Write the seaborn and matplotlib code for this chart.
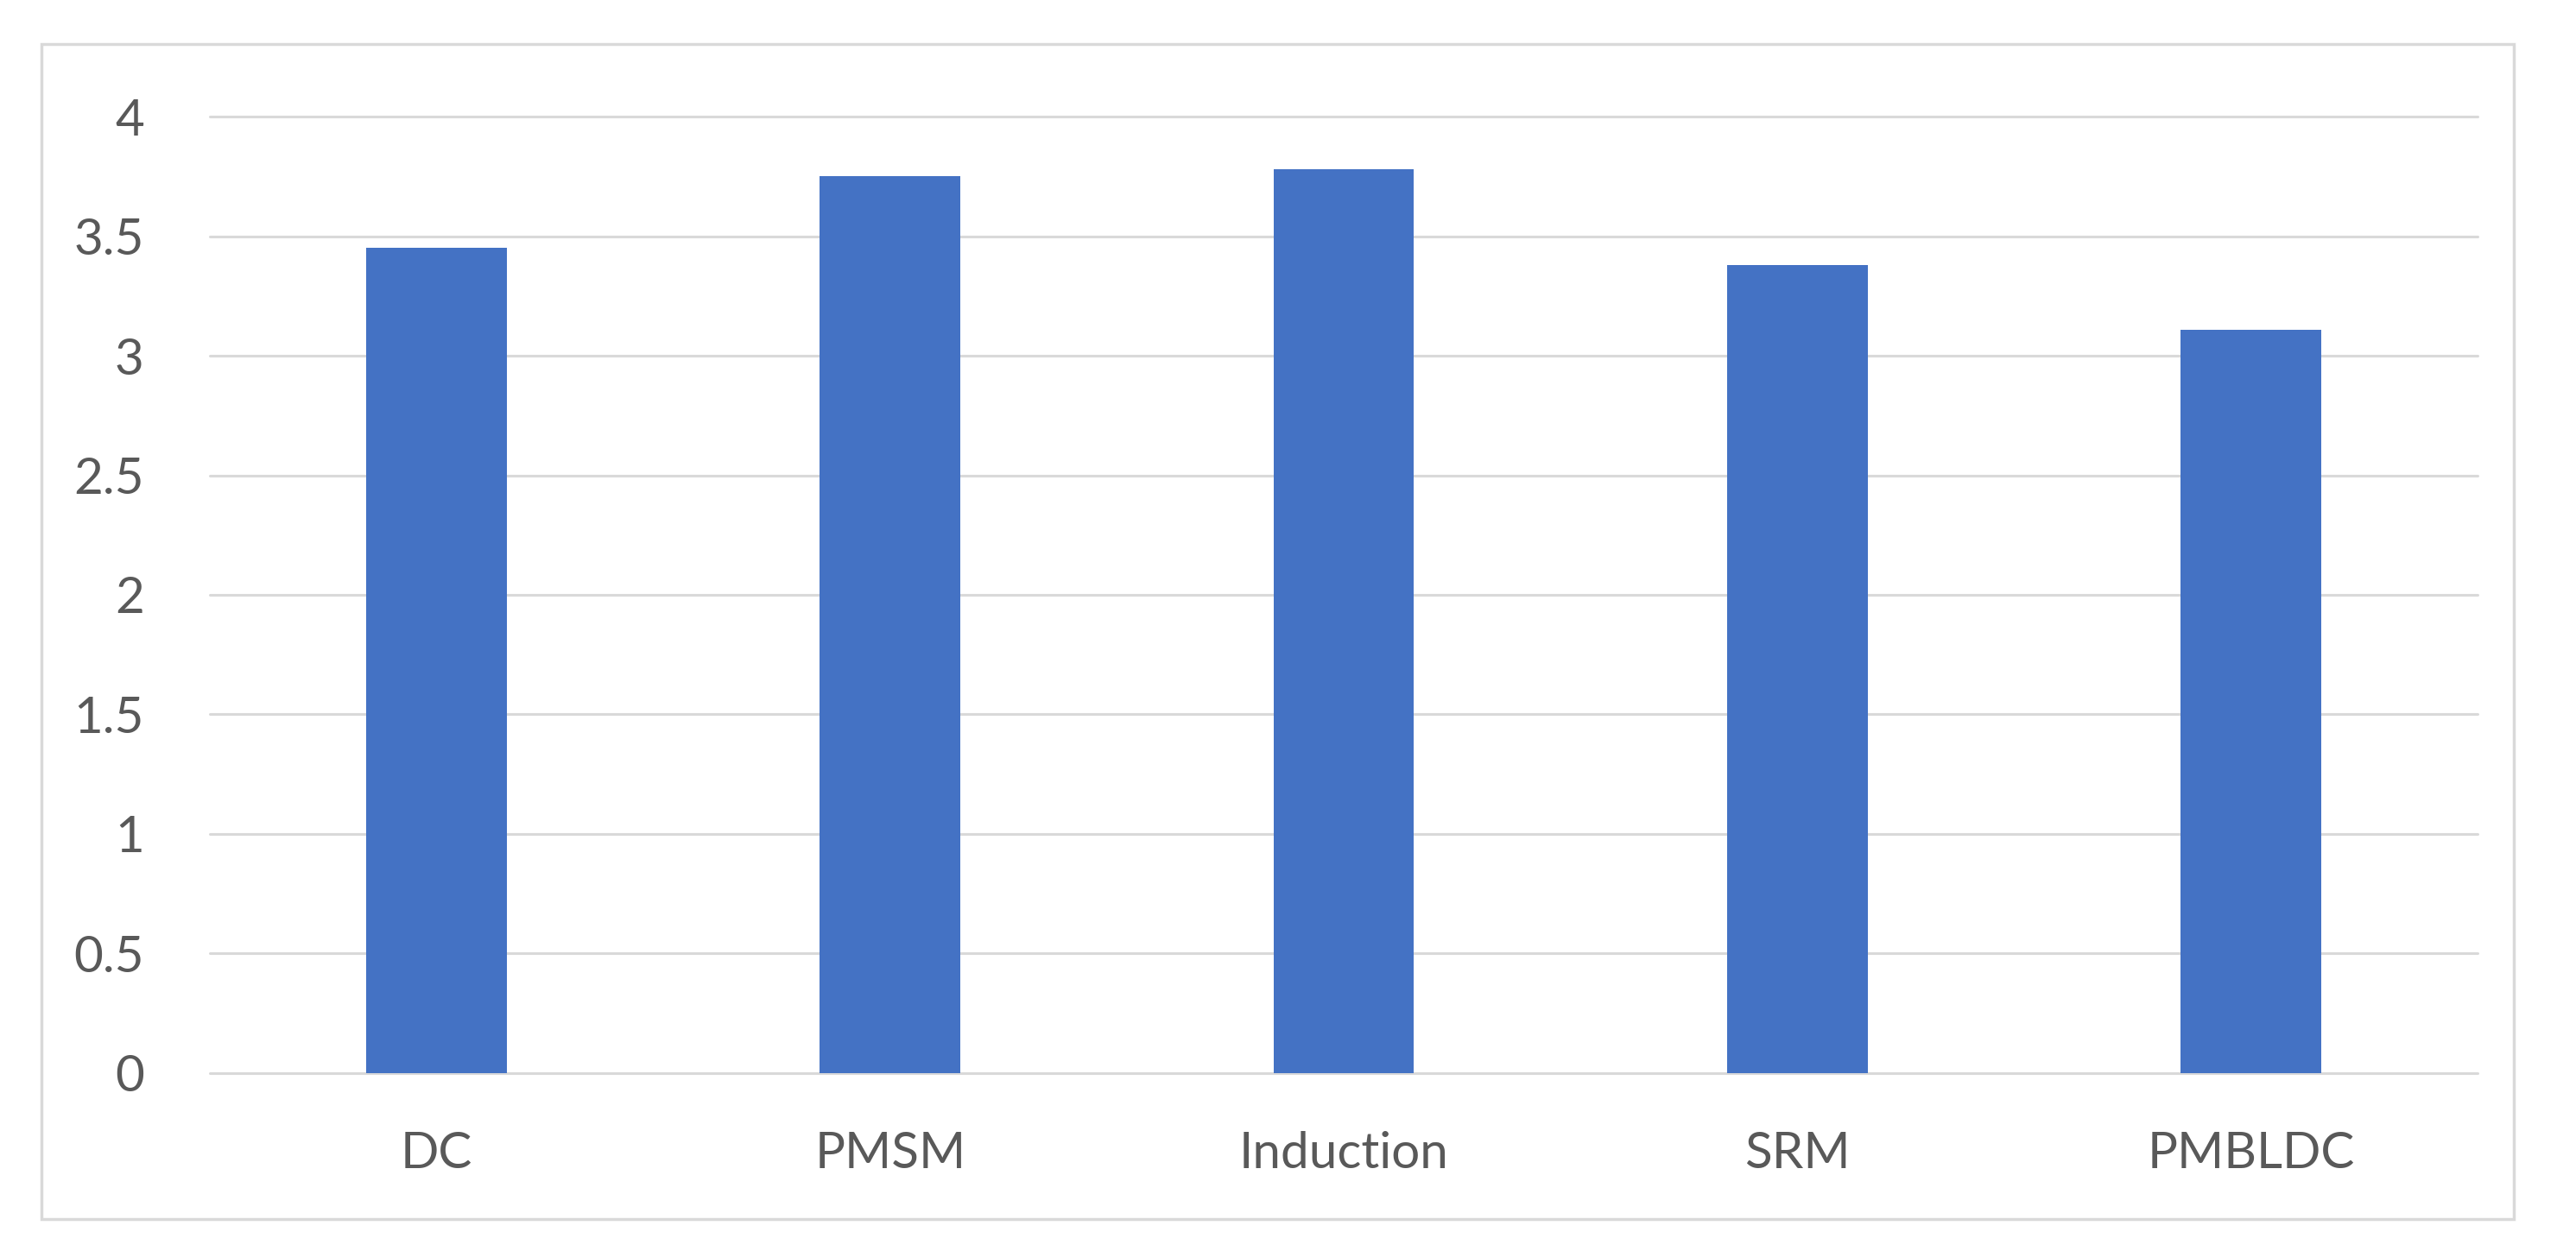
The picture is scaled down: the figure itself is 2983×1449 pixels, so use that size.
import matplotlib
matplotlib.use("Agg")
import matplotlib.pyplot as plt
import seaborn as sns
import pandas as pd
from matplotlib.patches import Rectangle

categories = ["DC", "PMSM", "Induction", "SRM", "PMBLDC"]
values = [3.45, 3.75, 3.78, 3.38, 3.11]
yticks = [0, 0.5, 1, 1.5, 2, 2.5, 3, 3.5, 4]
ytick_labels = ["0", "0.5", "1", "1.5", "2", "2.5", "3", "3.5", "4"]

sns.set_theme(style="white")
plt.rcParams['font.family'] = ['Lato', 'DejaVu Sans']

df = pd.DataFrame({"motor": categories, "value": values})

fig = plt.figure(figsize=(29.83, 14.49), dpi=100)
ax = fig.add_axes([0.0815, 0.1422, 0.9618 - 0.0815, 0.9068 - 0.1422])

sns.barplot(data=df, x="motor", y="value", color="#4472C4", saturation=1,
            width=0.31, ax=ax, edgecolor="none")

ax.set_ylim(0, 4)
ax.set_xlim(-0.5, 4.5)
ax.set_yticks(yticks)
ax.set_yticklabels(ytick_labels)
ax.set_xlabel("")
ax.set_ylabel("")
ax.tick_params(axis="both", length=0, labelsize=42, colors="#595959")
ax.tick_params(axis="y", pad=55)
ax.tick_params(axis="x", pad=48)
for s in ax.spines.values():
    s.set_visible(False)
ax.set_axisbelow(True)
ax.yaxis.grid(True, color="#d9d9d9", linewidth=2.2)
for line in ax.get_ygridlines():
    line.set_clip_on(False)

fig.patches.append(Rectangle((0.0161, 0.0255), 0.9759 - 0.0161, 0.9648 - 0.0255,
                             transform=fig.transFigure, fill=False,
                             edgecolor="#d9d9d9", linewidth=2.5, zorder=-1))

fig.savefig("out.png", dpi=100, facecolor="white")
